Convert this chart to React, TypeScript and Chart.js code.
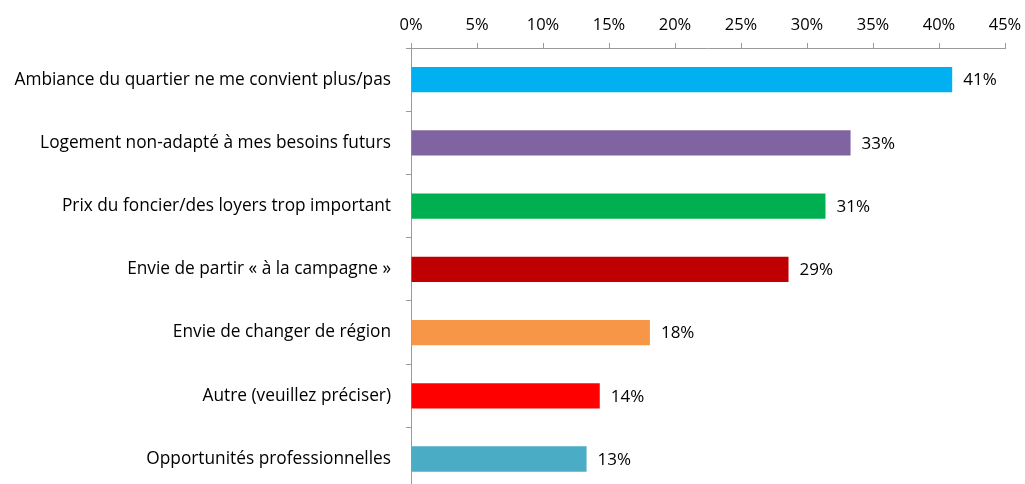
import React, { useEffect, useRef } from "react";
import { Chart, registerables } from "chart.js";

Chart.register(...registerables);

const categories = [
  "Ambiance du quartier ne me convient plus/pas",
  "Logement non-adapté à mes besoins futurs",
  "Prix du foncier/des loyers trop important",
  "Envie de partir « à la campagne »",
  "Envie de changer de région",
  "Autre (veuillez préciser)",
  "Opportunités professionnelles",
];
const values = [0.41, 0.333, 0.314, 0.286, 0.181, 0.143, 0.133];
const valueLabels = ["41%", "33%", "31%", "29%", "18%", "14%", "13%"];
const barColors = ["#00B0F0", "#8064A2", "#00B050", "#C00000", "#F79646", "#FF0000", "#4BACC6"];

const FONT = "'Open Sans'";

const valueLabelPlugin = {
  id: "valueLabels",
  afterDatasetsDraw(chart: any) {
    const ctx = chart.ctx;
    const meta = chart.getDatasetMeta(0);
    ctx.save();
    ctx.font = `17px ${FONT}`;
    ctx.fillStyle = "#000";
    ctx.textAlign = "left";
    ctx.textBaseline = "middle";
    meta.data.forEach((bar: any, i: number) => {
      ctx.fillText(valueLabels[i], bar.x + 11, bar.y + 1);
    });
    ctx.restore();
  },
};

export default function App() {
  const ref = useRef<HTMLCanvasElement | null>(null);
  useEffect(() => {
    if (!ref.current) return;
    const chart = new Chart(ref.current, {
      type: "bar",
      data: {
        labels: categories,
        datasets: [
          {
            data: values,
            backgroundColor: barColors,
            barPercentage: 0.4,
            categoryPercentage: 1,
          },
        ],
      },
      options: {
        indexAxis: "y",
        animation: false,
        responsive: false,
        maintainAspectRatio: false,
        layout: { padding: 0 },
        plugins: { legend: { display: false }, tooltip: { enabled: false } },
        scales: {
          x: {
            position: "top",
            min: 0,
            max: 0.45,
            ticks: {
              stepSize: 0.05,
              color: "#000",
              font: { family: FONT, size: 16.5 },
              padding: 8,
              callback: (v: any) => Math.round(Number(v) * 100) + "%",
            },
            grid: { drawOnChartArea: false, drawTicks: true, tickLength: 5, color: "#9a9a9a" },
            border: { color: "#9a9a9a", width: 1 },
            afterFit: (s: any) => {
              s.height = 48;
              s.paddingRight = 20;
              s.paddingLeft = 0;
            },
          },
          y: {
            ticks: {
              color: "#000",
              font: { family: FONT, size: 17.3 },
              padding: 15,
            },
            grid: { drawOnChartArea: false, drawTicks: true, tickLength: 5, offset: true, color: "#9a9a9a" },
            border: { color: "#9a9a9a", width: 1 },
            afterFit: (s: any) => {
              s.width = 411;
            },
          },
        },
      },
      plugins: [valueLabelPlugin],
    });
    return () => chart.destroy();
  }, []);
  return (
    <div style={{ position: "absolute", left: 0, top: 0, width: 1025, height: 516 }}>
      <style>{`body{margin:0;overflow:hidden}`}</style>
      <canvas ref={ref} width={1025} height={516} style={{ display: "block" }} />
    </div>
  );
}
